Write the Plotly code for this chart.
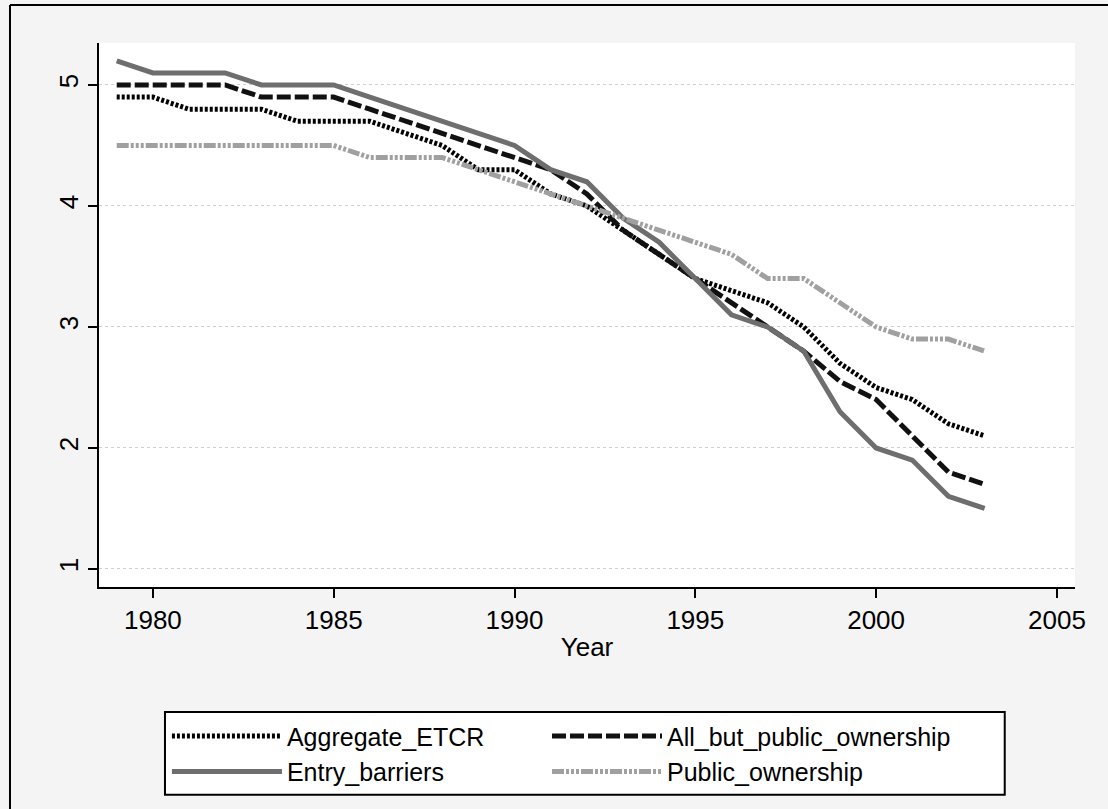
import plotly.graph_objects as go

years = list(range(1979, 2004))
aggregate_etcr = [4.9, 4.9, 4.8, 4.8, 4.8, 4.7, 4.7, 4.7, 4.6, 4.5, 4.3, 4.3, 4.1, 4.0, 3.8, 3.6,
                  3.4, 3.3, 3.2, 3.0, 2.7, 2.5, 2.4, 2.2, 2.1]
all_but_public = [5.0, 5.0, 5.0, 5.0, 4.9, 4.9, 4.9, 4.8, 4.7, 4.6, 4.5, 4.4, 4.3, 4.1, 3.8, 3.6,
                  3.4, 3.2, 3.0, 2.8, 2.55, 2.4, 2.1, 1.8, 1.7]
entry_barriers = [5.2, 5.1, 5.1, 5.1, 5.0, 5.0, 5.0, 4.9, 4.8, 4.7, 4.6, 4.5, 4.3, 4.2, 3.9, 3.7,
                  3.4, 3.1, 3.0, 2.8, 2.3, 2.0, 1.9, 1.6, 1.5]
public_ownership = [4.5, 4.5, 4.5, 4.5, 4.5, 4.5, 4.5, 4.4, 4.4, 4.4, 4.3, 4.2, 4.1, 4.0, 3.9, 3.8,
                    3.7, 3.6, 3.4, 3.4, 3.2, 3.0, 2.9, 2.9, 2.8]

x_ticks = [1980, 1985, 1990, 1995, 2000, 2005]
y_ticks = [1, 2, 3, 4, 5]

FONT = "Liberation Sans, Arial, sans-serif"

fig = go.Figure()
fig.add_trace(go.Scatter(x=years, y=aggregate_etcr, mode="lines", name="Aggregate_ETCR",
                         legend="legend",
                         line=dict(color="#000000", width=5, dash="3px,2px")))
fig.add_trace(go.Scatter(x=years, y=all_but_public, mode="lines", name="All_but_public_ownership",
                         legend="legend2",
                         line=dict(color="#111111", width=5, dash="14px,4px")))
fig.add_trace(go.Scatter(x=years, y=entry_barriers, mode="lines", name="Entry_barriers",
                         legend="legend",
                         line=dict(color="#6e6e6e", width=5)))
fig.add_trace(go.Scatter(x=years, y=public_ownership, mode="lines", name="Public_ownership",
                         legend="legend2",
                         line=dict(color="#a0a0a0", width=5,
                                   dash="12px,2px,3px,2px,3px,2px,3px,2px")))

legend_common = dict(
    orientation="v", yanchor="top", xanchor="left",
    bgcolor="rgba(0,0,0,0)", borderwidth=0,
    itemwidth=110, tracegroupgap=0,
    font=dict(family=FONT, size=25),
)

fig.update_layout(
    width=1108, height=809,
    margin=dict(l=99, r=33, t=43, b=222),
    paper_bgcolor="#f4f4f4",
    plot_bgcolor="#ffffff",
    font=dict(family=FONT, size=26, color="#000000"),
    showlegend=True,
    legend=dict(x=0.0696, y=-0.232, **legend_common),
    legend2=dict(x=0.459, y=-0.232, **legend_common),
    xaxis=dict(
        range=[1978.51, 2005.5],
        tickvals=x_ticks,
        ticks="outside", ticklen=9, tickwidth=1.5, tickcolor="#000000",
        showline=True, linecolor="#000000", linewidth=1.5,
        showgrid=False, zeroline=False,
        tickfont=dict(size=26),
        title=dict(text="Year", font=dict(size=26), standoff=4),
    ),
    yaxis=dict(
        range=[0.851, 5.347],
        tickvals=y_ticks,
        tickangle=-90,
        ticks="outside", ticklen=9, tickwidth=1.5, tickcolor="#000000",
        showline=True, linecolor="#000000", linewidth=1.5,
        showgrid=True, gridcolor="#d0d0d0", griddash="dot", gridwidth=1,
        zeroline=False,
        tickfont=dict(size=26),
    ),
    shapes=[
        dict(type="line", xref="paper", yref="paper", x0=-0.0912, x1=-0.0912, y0=-0.45, y1=1.0699,
             line=dict(color="#000000", width=2)),
        dict(type="line", xref="paper", yref="paper", x0=-0.0912, x1=1.04, y0=1.0699, y1=1.0699,
             line=dict(color="#000000", width=2)),
        dict(type="rect", xref="paper", yref="paper", x0=0.0676, x1=0.928, y0=-0.382, y1=-0.2298,
             fillcolor="#ffffff", line=dict(color="#000000", width=2)),
    ],
)

fig.write_html("out.html", config={"displayModeBar": False},
               post_script="document.body.style.margin='0px';")
